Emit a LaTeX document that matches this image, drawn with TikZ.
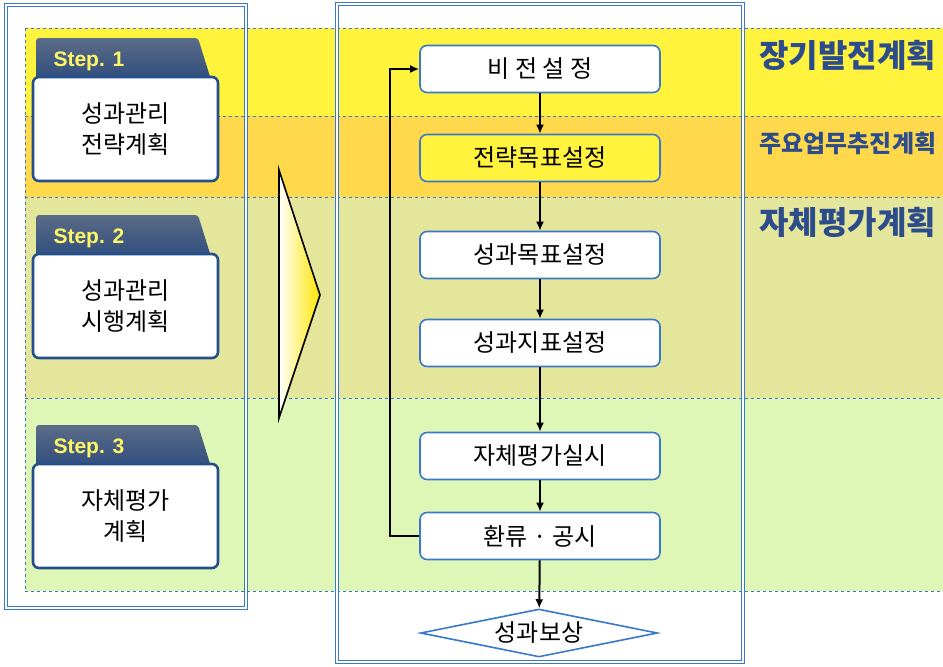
\documentclass[tikz,border=0pt]{standalone}
\usepackage{fontspec}
\setmainfont{Noto Sans CJK KR}
\newfontfamily\stepfont{Liberation Sans}
\usetikzlibrary{calc,arrows.meta,shapes.geometric}
\definecolor{bandA}{HTML}{FFF33E}
\definecolor{bandB}{HTML}{FFD84C}
\definecolor{bandC}{HTML}{E4E69C}
\definecolor{bandD}{HTML}{DFF7B6}
\definecolor{lineblue}{HTML}{3A78CC}
\definecolor{stepblue}{HTML}{234F8C}
\definecolor{tabtop}{HTML}{5B6C86}
\definecolor{tabbot}{HTML}{2C4B7E}
\definecolor{labelblue}{HTML}{2C4C8C}

\begin{document}
\begin{tikzpicture}[x=1pt,y=-1pt,
    flowbox/.style={draw=lineblue,line width=1.6pt,fill=white,rounded corners=7pt,
        minimum width=240pt,minimum height=47pt,font=\fontsize{24}{28}\selectfont},
    stepbox/.style={draw=stepblue,line width=2.6pt,fill=white,rounded corners=6pt,
        minimum width=185pt,minimum height=104pt,align=center,
        font=\fontsize{24}{31}\selectfont},
    flow/.style={line width=2pt,-{Latex[length=9pt,width=8pt]}},
    frame/.style={draw=lineblue,line width=1pt,double=white,double distance=1.2pt},
    band/.style={draw=lineblue,dashed,line width=0.7pt},
    planlabel/.style={anchor=west,text=labelblue}]
\useasboundingbox (0,0) rectangle (943,667);
\fill[white] (0,0) rectangle (943,667);

% bands
\fill[bandA] (25,28) rectangle (943,116);
\fill[bandB] (25,116) rectangle (943,197);
\fill[bandC] (25,197) rectangle (943,398);
\fill[bandD] (25,398) rectangle (943,591);
\foreach \y in {28,116,197,398,591}
    \draw[band] (25,\y) -- (943,\y);
\draw[band] (25,28) -- (25,591);

% frames
\draw[frame] (6,5) rectangle (246,608);
\draw[frame] (337,4) rectangle (743,662);

% steps
\foreach \n/\y/\a/\b in {1/38/성과관리/전략계획,2/215/성과관리/시행계획,3/425/자체평가/계획}{
    \shade[top color=tabtop,bottom color=tabbot,rounded corners=3pt]
        (36,\y+45) -- (36,\y) -- (198,\y) -- (212,\y+45) -- cycle;
    \node[anchor=west,text=yellow!60!white,font=\stepfont\bfseries\fontsize{21}{23}\selectfont]
        at (50,\y+23) {Step. \n};
    \node (step\n) [stepbox] at (125.5,\y+91) {\a\\\b};
}

% big arrow
\shade[left color=white,right color=yellow!80!orange,draw=black,line width=1.6pt]
    (279,170) -- (320,295) -- (279,418) -- cycle;

% flow
\node (vision) [flowbox] at (540,69) {비 전 설 정};
\node (strat) [flowbox,fill=bandA] at (540,158) {전략목표설정};
\node (goal) [flowbox] at (540,255) {성과목표설정};
\node (kpi) [flowbox] at (540,343) {성과지표설정};
\node (eval) [flowbox] at (540,456) {자체평가실시};
\node (disclose) [flowbox] at (540,536) {환류 · 공시};
\node (reward) [draw=lineblue,line width=1.6pt,fill=white,diamond,aspect=4.9,inner sep=0pt,
    minimum width=237pt,minimum height=48pt,font=\fontsize{24}{28}\selectfont] at (539,633) {성과보상};

\draw[flow] (vision) -- (strat);
\draw[flow] (strat) -- (goal);
\draw[flow] (goal) -- (kpi);
\draw[flow] (kpi) -- (eval);
\draw[flow] (eval) -- (disclose);
\draw[flow] (disclose) -- (reward);
\draw[flow] (disclose.west) -- ++(-29,0) |- (vision.west);

% plan labels
\node (longterm) [planlabel,font=\bfseries\fontsize{32}{34}\selectfont] at (756,55) {장기발전계획};
\node (mainwork) [planlabel,font=\bfseries\fontsize{24}{26}\selectfont] at (756,143) {주요업무추진계획};
\node (selfplan) [planlabel,font=\bfseries\fontsize{32}{34}\selectfont] at (756,222) {자체평가계획};
\end{tikzpicture}
\end{document}
